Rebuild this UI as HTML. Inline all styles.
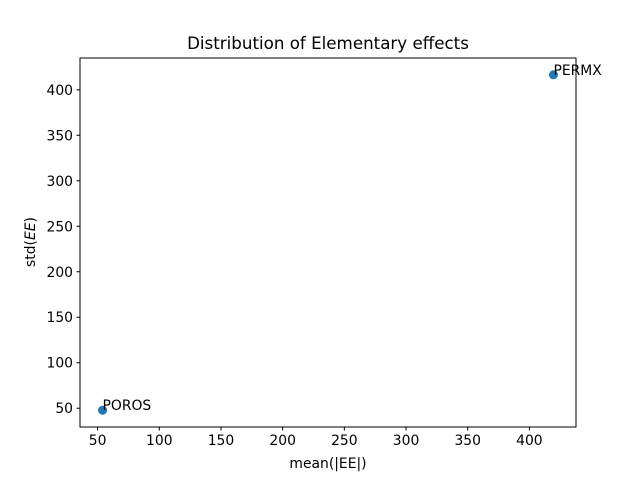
<!DOCTYPE html>
<html><head><meta charset="utf-8"><style>
body{margin:0;background:#fff}
svg text{font-family:"DejaVu Sans","Liberation Sans",sans-serif;fill:#000}
</style></head><body>
<svg width="640" height="480" viewBox="0 0 640 480">
<rect width="640" height="480" fill="#fff"/>
<text x="328" y="49" font-size="16.7" text-anchor="middle">Distribution of Elementary effects</text>
<g id="xt"></g>
<g id="yt"></g>
<g id="pts"></g>
<rect x="80" y="58" width="496" height="369" fill="none" stroke="#000" stroke-width="1"/>
<text x="328" y="468" font-size="13.9" text-anchor="middle">mean(|EE|)</text>
<text transform="translate(35,242) rotate(-90)" font-size="13.9" text-anchor="middle">std(<tspan font-style="italic">EE</tspan>)</text>
</svg>
<script>
const names=["POROS","PERMX"];
const meanVals=[54,419.5];
const stdVals=[47.8,416.5];
const xTicks=[50,100,150,200,250,300,350,400];
const yTicks=[50,100,150,200,250,300,350,400];
const NS="http://www.w3.org/2000/svg";
const L=80,R=576,T=58,B=427;
function ext(a){const mn=Math.min(...a),mx=Math.max(...a),m=(mx-mn)*0.05;return[mn-m,mx+m];}
const [x0,x1]=ext(meanVals),[y0,y1]=ext(stdVals);
const sx=v=>L+(v-x0)/(x1-x0)*(R-L);
const sy=v=>B-(v-y0)/(y1-y0)*(B-T);
function mk(t,a,p){const e=document.createElementNS(NS,t);for(const k in a)e.setAttribute(k,a[k]);p.appendChild(e);return e;}
const xt=document.getElementById('xt'),yt=document.getElementById('yt'),pts=document.getElementById('pts');
xTicks.forEach(v=>{const x=sx(v);
const l=mk('line',{x1:x,x2:x,y1:B,y2:B+3.5,stroke:'#000'},xt);


const t=mk('text',{x:x,y:B+18,'font-size':13.9,'text-anchor':'middle'},xt);t.textContent=v;

});
yTicks.forEach(v=>{const y=sy(v);
const l=mk('line',{x1:L-3.5,x2:L,y1:y,y2:y,stroke:'#000'},yt);


const t=mk('text',{x:L-7,y:y+5,'font-size':13.9,'text-anchor':'end'},yt);t.textContent=v;

});
names.forEach((n,i)=>{const x=sx(meanVals[i]),y=sy(stdVals[i]);
const c=mk('circle',{cx:x,cy:y,r:4.5,fill:'#1f77b4'},pts);


const t=mk('text',{x:x,y:y,'font-size':13.9},pts);t.textContent=n;

});
</script>
</body></html>
